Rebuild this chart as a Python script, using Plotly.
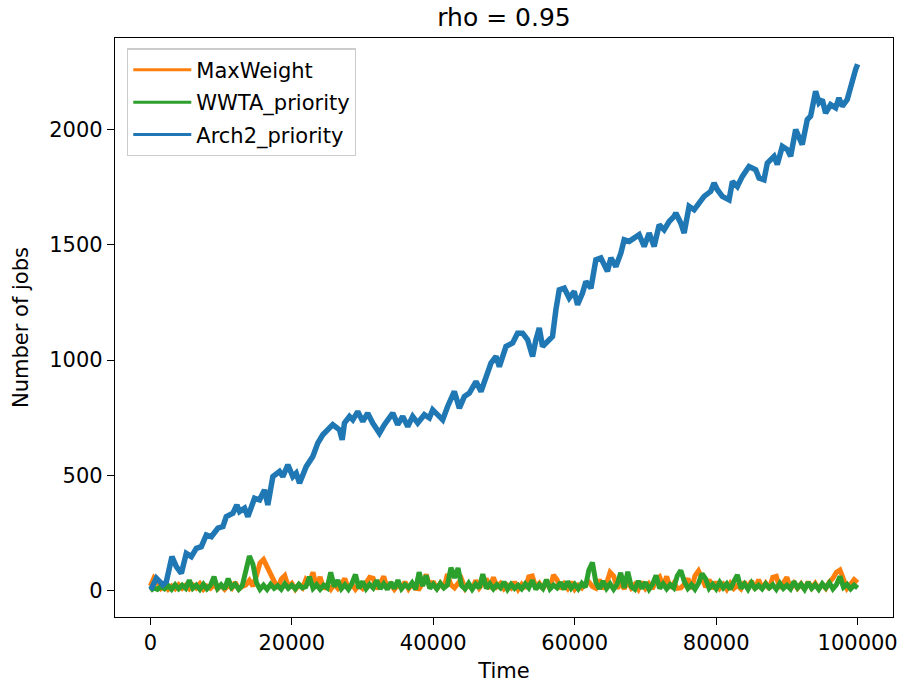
import numpy as np
import plotly.graph_objects as go

# ---------------- data ----------------
time_grid = list(range(0, 100001, 500))

maxweight = [
    20, 55, 35, 10, 25, 6, 20, 8, 26, 10,
    24, 8, 25, 12, 30, 6, 20, 10, 26, 8,
    24, 6, 22, 10, 36, 8, 18, 25, 45, 20,
    65, 120, 135, 105, 75, 35, 10, 50, 65, 18,
    32, 6, 25, 12, 50, 36, 80, 10, 60, 8,
    25, 6, 28, 10, 36, 52, 8, 28, 6, 24,
    10, 32, 58, 54, 8, 32, 62, 10, 28, 6,
    24, 12, 38, 8, 30, 10, 8, 32, 70, 18,
    40, 6, 32, 10, 72, 25, 12, 32, 50, 10,
    28, 6, 45, 12, 30, 52, 8, 58, 18, 32,
    8, 24, 12, 38, 6, 28, 10, 60, 64, 15,
    32, 8, 38, 10, 68, 48, 8, 30, 10, 38,
    6, 24, 12, 32, 38, 18, 10, 48, 8, 32,
    80, 64, 10, 32, 8, 42, 12, 28, 6, 38,
    10, 30, 8, 48, 60, 18, 62, 12, 32, 10,
    12, 28, 52, 8, 64, 86, 55, 15, 48, 8,
    38, 10, 28, 6, 32, 10, 24, 8, 38, 12,
    42, 6, 48, 10, 32, 8, 58, 62, 10, 38,
    58, 8, 32, 10, 30, 6, 38, 12, 32, 8,
    28, 10, 38, 54, 80, 90, 45, 10, 28, 48,
    35,
]

wwta_priority = [
    0, 12, 6, 18, 8, 22, 6, 26, 8, 24,
    10, 45, 10, 24, 6, 28, 8, 24, 60, 10,
    26, 8, 52, 14, 28, 6, 22, 85, 150, 115,
    35, 6, 24, 6, 28, 10, 22, 6, 30, 10,
    24, 8, 28, 12, 18, 60, 10, 26, 6, 24,
    12, 80, 18, 45, 8, 26, 6, 32, 70, 10,
    40, 8, 28, 12, 45, 8, 30, 6, 36, 10,
    45, 8, 26, 14, 34, 6, 80, 20, 66, 10,
    28, 8, 32, 12, 24, 100, 55, 98, 22, 8,
    32, 6, 28, 12, 72, 10, 30, 8, 26, 12,
    38, 6, 28, 10, 24, 8, 30, 12, 45, 6,
    26, 10, 48, 8, 24, 12, 36, 6, 40, 10,
    28, 8, 32, 15, 90, 122, 35, 8, 42, 10,
    30, 6, 28, 78, 12, 82, 18, 6, 42, 10,
    36, 6, 28, 66, 10, 30, 8, 26, 12, 65,
    88, 40, 10, 26, 6, 32, 74, 52, 10, 28,
    8, 36, 12, 30, 6, 40, 68, 10, 30, 6,
    34, 10, 24, 8, 30, 12, 26, 6, 32, 10,
    24, 8, 40, 12, 28, 6, 36, 10, 26, 6,
    30, 12, 34, 8, 26, 62, 15, 28, 8, 24,
    12,
]

arch2_time = [
    0, 140, 850, 1780, 2260, 3050, 3670, 4380, 5080, 5790,
    6500, 7200, 7910, 8620, 9550, 10260, 10730, 11670, 12230, 12610,
    13320, 13790, 14730, 15440, 16140, 16610, 17320, 18260, 18730, 19440,
    20140, 20620, 21090, 22030, 22970, 23670, 24380, 25320, 25790, 26740,
    27120, 27440, 28150, 28620, 29320, 30030, 30730, 31440, 32390, 33090,
    34270, 34970, 35680, 36390, 37090, 37800, 38740, 39450, 39920, 40390,
    41330, 42030, 42980, 43690, 44390, 45100, 46040, 46750, 47460, 48160,
    48870, 49340, 50280, 51220, 51920, 52630, 53340, 54040, 54510, 54990,
    55450, 56160, 56860, 57340, 57810, 58520, 59220, 59930, 60400, 61100,
    61580, 62290, 62990, 63700, 64170, 64630, 65110, 65820, 66520, 66990,
    67700, 68400, 69110, 69820, 70520, 71230, 71940, 72640, 73350, 74050,
    74290, 75000, 75470, 76170, 76880, 77580, 78290, 79230, 79700, 80170,
    80870, 81820, 82290, 82990, 83700, 84640, 85590, 86060, 86760, 87230,
    88180, 88640, 89350, 90060, 90530, 91240, 91710, 92170, 92880, 93350,
    94060, 94530, 95000, 95470, 96180, 96890, 97360, 97820, 98530, 98770,
    99240, 99710, 100000,
]

arch2_priority = [
    5, 10, 54, 25, 39, 148, 104, 75, 162, 148,
    184, 191, 242, 234, 271, 278, 321, 336, 372, 343,
    358, 321, 401, 394, 437, 372, 495, 517, 495, 546,
    495, 510, 466, 538, 582, 640, 676, 705, 720, 698,
    654, 727, 756, 741, 777, 734, 770, 727, 683, 720,
    770, 720, 756, 712, 756, 727, 763, 749, 784, 770,
    741, 799, 864, 792, 842, 857, 907, 864, 929, 987,
    1016, 972, 1059, 1074, 1117, 1117, 1088, 1016, 1088, 1139,
    1059, 1081, 1103, 1219, 1305, 1312, 1269, 1298, 1240, 1291,
    1341, 1312, 1435, 1443, 1414, 1385, 1443, 1406, 1464, 1522,
    1515, 1530, 1544, 1493, 1551, 1493, 1587, 1565, 1601, 1623,
    1638, 1594, 1551, 1667, 1652, 1681, 1710, 1732, 1768, 1739,
    1710, 1695, 1775, 1753, 1797, 1840, 1826, 1790, 1782, 1855,
    1884, 1848, 1927, 1913, 1884, 2000, 1971, 1935, 2043, 2058,
    2166, 2116, 2130, 2072, 2108, 2094, 2137, 2101, 2130, 2159,
    2224, 2260, 2283,
]

series_names = ["MaxWeight", "WWTA_priority", "Arch2_priority"]
series_colors = ["#ff7f0e", "#2ca02c", "#1f77b4"]

x_ticks = [0, 20000, 40000, 60000, 80000, 100000]
y_ticks = [0, 500, 1000, 1500, 2000]

title_text = "rho = 0.95"
x_label = "Time"
y_label = "Number of jobs"

# ---------------- figure ----------------
FONT = "DejaVu Sans"

fig = go.Figure()
series = [
    (time_grid[:len(maxweight)], maxweight, 5),
    (time_grid[:len(wwta_priority)], wwta_priority, 5),
    (arch2_time, arch2_priority, 5.5),
]
for (xs, ys, w), name, color in zip(series, series_names, series_colors):
    fig.add_trace(go.Scatter(x=xs, y=ys, mode="lines", name=name,
                             showlegend=False, hoverinfo="skip",
                             line=dict(color=color, width=w)))

# legend entries (thin line samples, as in the reference legend)
for i, (name, color) in enumerate(zip(series_names, series_colors)):
    fig.add_trace(go.Scatter(x=[None], y=[None], mode="lines", name=name,
                             legendgroup=f"g{i}", showlegend=True,
                             line=dict(color=color, width=3)))

x_min, x_max = 0, 100000
x_pad = 0.05 * (x_max - x_min)
y_all = maxweight + wwta_priority + arch2_priority
y_min, y_max = 0, max(y_all)
y_pad = 0.05 * (y_max - y_min)

axis_common = dict(
    showline=True, mirror=True, linecolor="black", linewidth=1.3,
    ticks="outside", ticklen=7, tickwidth=1.3, tickcolor="black",
    showgrid=False, zeroline=False,
    tickfont=dict(family=FONT, size=21, color="black"),
)

fig.update_layout(
    width=901, height=683,
    margin=dict(l=115, r=8, t=38, b=66, autoexpand=False),
    paper_bgcolor="white", plot_bgcolor="white",
    font=dict(family=FONT, size=21, color="black"),
    title=dict(text=title_text, x=(115 + 893) / 2 / 901, xanchor="center",
               y=1 - 17 / 683, yanchor="middle", yref="container",
               font=dict(family=FONT, size=25, color="black")),
    xaxis=dict(range=[x_min - x_pad, x_max + x_pad], tickvals=x_ticks,
               ticktext=[str(v) for v in x_ticks],
               title=dict(text=x_label, standoff=10,
                          font=dict(family=FONT, size=21)),
               automargin=False,
               **axis_common),
    yaxis=dict(range=[y_min - y_pad, y_max + y_pad], tickvals=y_ticks,
               ticktext=[str(v) for v in y_ticks],
               title=dict(text=y_label, standoff=14,
                          font=dict(family=FONT, size=21)),
               automargin=False,
               **axis_common),
    showlegend=True,
    legend=dict(x=0.0154, y=0.982, xanchor="left", yanchor="top",
                bgcolor="rgba(255,255,255,0.8)", bordercolor="#cccccc",
                borderwidth=1.3, tracegroupgap=2, itemwidth=58,
                font=dict(family=FONT, size=21, color="black"),
                traceorder="grouped"),
)

fig.write_html("out.html", config={"displayModeBar": False},
               post_script="document.body.style.margin='0px';")
